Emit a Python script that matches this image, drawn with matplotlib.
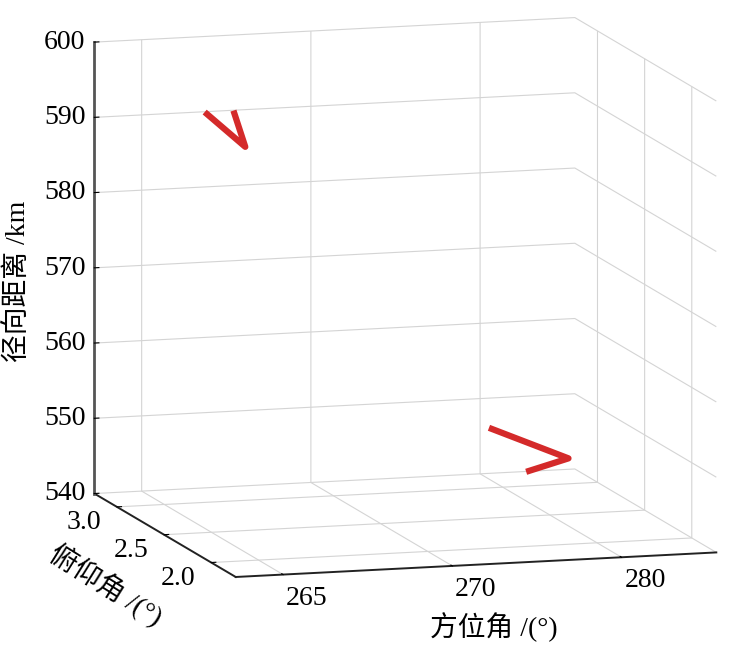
import matplotlib.pyplot as plt
import numpy as np

plt.rcParams['font.family'] = ['Liberation Serif', 'Noto Sans CJK SC']
plt.rcParams['grid.color'] = '#d4d4d4'
plt.rcParams['grid.linewidth'] = 0.8

# axis settings
x_ticks = [265, 270, 275]
x_ticklabels = ['265', '270', '280']
y_ticks = [2.0, 2.5, 3.0]
y_ticklabels = ['2.0', '2.5', '3.0']
z_ticks = [540, 550, 560, 570, 580, 590, 600]

# two tracks (chevrons)
track1_x = [264.8, 266.0, 265.65]
track1_y = [2.5, 2.5, 2.5]
track1_z = [595.9, 591.0, 595.9]

track2_x = [273.2, 275.55, 274.3]
track2_y = [2.5, 2.5, 2.5]
track2_z = [552.0, 547.4, 545.9]

fig = plt.figure(figsize=(7.29, 6.45), dpi=100)
ax = fig.add_subplot(111, projection='3d', proj_type='ortho')
ax.set_position([0.044, 0.0256, 1.0, 1.0])

ax.plot(track1_x, track1_y, track1_z, color='#d42a2a', lw=4.5, solid_capstyle='butt')
ax.plot(track2_x, track2_y, track2_z, color='#d42a2a', lw=4.5, solid_capstyle='butt')

ax.set_xlim(263.6, 277.8)
ax.set_ylim(1.74, 3.24)
ax.set_zlim(540, 600)
ax.set_xticks(x_ticks)
ax.set_xticklabels(x_ticklabels, ha='left', va='top')
ax.set_yticks(y_ticks)
ax.set_yticklabels(y_ticklabels, ha='right', va='center')
ax.set_zticks(z_ticks)
ax.set_zticklabels([str(z) for z in z_ticks], va='center_baseline')
ax.tick_params(labelsize=20)
ax.tick_params(axis='x', pad=-3)
ax.tick_params(axis='y', pad=0)

ax.set_box_aspect((1, 1, 0.915), zoom=1.27)
ax.view_init(elev=10, azim=-106.4)

for axis in (ax.xaxis, ax.yaxis, ax.zaxis):
    axis.set_pane_color((1, 1, 1, 1))
    axis.pane.set_edgecolor((1, 1, 1, 0))
    axis.line.set_color('#222222')
    axis.line.set_linewidth(1.4)
    axis._axinfo['tick']['inward_factor'] = 0.0
    axis._axinfo['tick']['outward_factor'] = 0.12
ax.zaxis.line.set_color('#555555')
ax.zaxis.line.set_linewidth(2)

fig.text(0.025, 0.564, '径向距离 /km', fontsize=20, rotation=90, ha='center', va='center')
fig.text(0.678, 0.028, '方位角 /(°)', fontsize=20, ha='center', va='center')
fig.text(0.146, 0.093, '俯仰角 /(°)', fontsize=20, rotation=-32, ha='center', va='center',
         rotation_mode='anchor')

fig.savefig('out.png', dpi=100)
